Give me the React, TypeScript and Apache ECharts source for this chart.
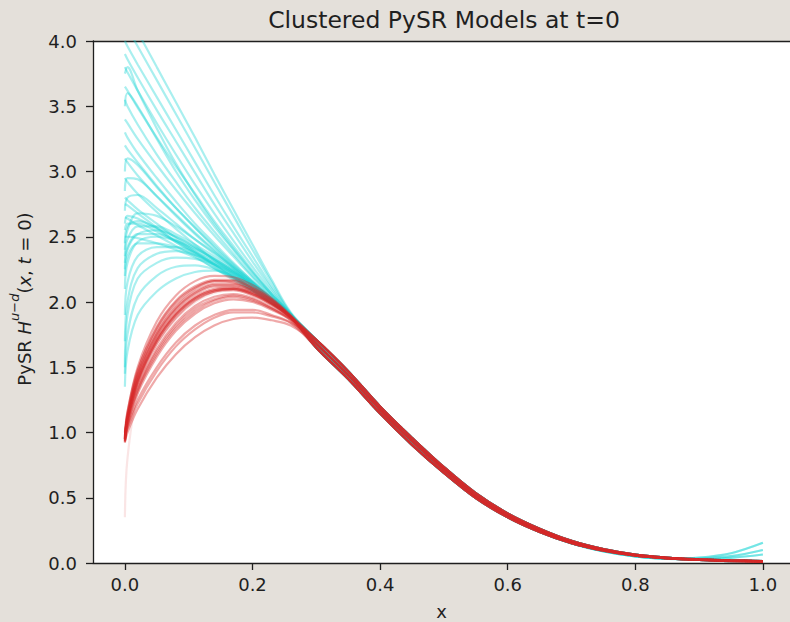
import React, { useEffect, useRef } from "react";
import * as echarts from "echarts";

const TITLE = "Clustered PySR Models at t=0";
const X_NAME = "x";
const X_TICKS = [0, 0.2, 0.4, 0.6, 0.8, 1.0];
const Y_TICKS = [0, 0.5, 1.0, 1.5, 2.0, 2.5, 3.0, 3.5, 4.0];

// x positions of the early (divergent) part of each model curve
const HEAD_X = [0, 0.004, 0.02, 0.05, 0.08, 0.11, 0.14, 0.17, 0.2, 0.23, 0.26];
// x positions of the shared (convergent) part
const TAIL_X = [0.3, 0.35, 0.4, 0.45, 0.5, 0.55, 0.6, 0.65, 0.7, 0.75, 0.8, 0.85, 0.9, 0.95, 1.0];

const TAIL_MAIN = [1.68, 1.44, 1.175, 0.935, 0.715, 0.515, 0.365, 0.25, 0.16, 0.1, 0.06, 0.038, 0.026, 0.018, 0.013];
const TAIL_HIGH = [1.71, 1.47, 1.2, 0.96, 0.735, 0.535, 0.38, 0.263, 0.17, 0.107, 0.065, 0.041, 0.028, 0.02, 0.015];
const TAIL_LOW = [1.65, 1.41, 1.145, 0.905, 0.69, 0.497, 0.35, 0.238, 0.152, 0.094, 0.056, 0.035, 0.023, 0.015, 0.01];
const TAIL_UP1 = [1.69, 1.45, 1.18, 0.94, 0.72, 0.52, 0.365, 0.25, 0.155, 0.092, 0.052, 0.035, 0.042, 0.075, 0.155];
const TAIL_UP2 = [1.68, 1.44, 1.17, 0.93, 0.71, 0.51, 0.36, 0.245, 0.152, 0.09, 0.05, 0.032, 0.034, 0.052, 0.1];
const TAIL_UP3 = [1.67, 1.43, 1.16, 0.92, 0.7, 0.505, 0.355, 0.24, 0.15, 0.088, 0.05, 0.032, 0.03, 0.04, 0.065];

// cyan cluster: early values of each model
const CYAN_HEADS = [
  [4.25, 4.21, 4.07, 3.8, 3.53, 3.26, 2.98, 2.71, 2.44, 2.17, 1.92],
  [4.15, 4.1, 3.96, 3.7, 3.44, 3.18, 2.92, 2.66, 2.4, 2.15, 1.91],
  [4.0, 3.96, 3.82, 3.57, 3.32, 3.07, 2.82, 2.58, 2.35, 2.12, 1.91],
  [3.9, 3.86, 3.72, 3.47, 3.23, 2.99, 2.75, 2.53, 2.31, 2.1, 1.9],
  [3.8, 3.76, 3.62, 3.37, 3.13, 2.9, 2.68, 2.47, 2.27, 2.08, 1.9],
  [3.75, 3.8, 3.62, 3.33, 3.06, 2.82, 2.6, 2.41, 2.23, 2.06, 1.9],
  [3.65, 3.62, 3.49, 3.26, 3.04, 2.83, 2.62, 2.43, 2.24, 2.06, 1.9],
  [3.55, 3.5, 3.36, 3.13, 2.92, 2.72, 2.54, 2.37, 2.2, 2.05, 1.9],
  [3.5, 3.6, 3.5, 3.25, 3.0, 2.78, 2.58, 2.4, 2.22, 2.06, 1.91],
  [3.4, 3.37, 3.25, 3.05, 2.86, 2.68, 2.51, 2.35, 2.19, 2.04, 1.9],
  [3.3, 3.26, 3.14, 2.95, 2.77, 2.6, 2.45, 2.3, 2.16, 2.03, 1.9],
  [3.2, 3.17, 3.07, 2.89, 2.72, 2.57, 2.42, 2.28, 2.15, 2.02, 1.89],
  [3.1, 3.07, 2.97, 2.81, 2.66, 2.52, 2.39, 2.26, 2.13, 2.01, 1.89],
  [3.0, 3.1, 3.05, 2.88, 2.72, 2.57, 2.43, 2.29, 2.16, 2.03, 1.9],
  [2.95, 2.92, 2.83, 2.69, 2.56, 2.44, 2.32, 2.21, 2.1, 1.99, 1.89],
  [2.85, 2.95, 2.94, 2.81, 2.67, 2.53, 2.4, 2.27, 2.15, 2.02, 1.9],
  [2.8, 2.78, 2.71, 2.6, 2.49, 2.39, 2.29, 2.19, 2.09, 1.99, 1.89],
  [2.75, 2.74, 2.68, 2.57, 2.46, 2.37, 2.28, 2.19, 2.1, 2.0, 1.89],
  [2.7, 2.8, 2.82, 2.72, 2.6, 2.48, 2.37, 2.26, 2.14, 2.02, 1.9],
  [2.65, 2.64, 2.59, 2.51, 2.43, 2.35, 2.26, 2.17, 2.08, 1.99, 1.89],
  [2.6, 2.66, 2.64, 2.56, 2.47, 2.38, 2.28, 2.19, 2.09, 1.99, 1.89],
  [2.55, 2.6, 2.6, 2.54, 2.46, 2.38, 2.29, 2.2, 2.1, 2.0, 1.89],
  [2.5, 2.5, 2.49, 2.45, 2.4, 2.34, 2.26, 2.18, 2.09, 2.0, 1.9],
  [2.45, 2.58, 2.62, 2.57, 2.5, 2.42, 2.33, 2.23, 2.12, 2.01, 1.89],
  [2.4, 2.55, 2.68, 2.66, 2.58, 2.48, 2.38, 2.27, 2.15, 2.03, 1.9],
  [2.35, 2.48, 2.58, 2.58, 2.52, 2.44, 2.35, 2.25, 2.14, 2.02, 1.9],
  [2.3, 2.42, 2.52, 2.52, 2.47, 2.4, 2.32, 2.23, 2.13, 2.02, 1.9],
  [2.25, 2.4, 2.52, 2.55, 2.5, 2.42, 2.33, 2.24, 2.13, 2.02, 1.9],
  [2.2, 2.35, 2.45, 2.45, 2.42, 2.36, 2.29, 2.21, 2.11, 2.01, 1.9],
  [2.1, 2.3, 2.46, 2.5, 2.47, 2.41, 2.33, 2.24, 2.13, 2.02, 1.9],
  [1.9, 2.15, 2.35, 2.42, 2.42, 2.38, 2.31, 2.23, 2.13, 2.02, 1.9],
  [1.7, 2.0, 2.26, 2.37, 2.39, 2.36, 2.3, 2.22, 2.13, 2.02, 1.89],
  [1.5, 1.9, 2.18, 2.3, 2.34, 2.33, 2.29, 2.22, 2.13, 2.02, 1.89],
  [1.45, 1.75, 2.04, 2.2, 2.27, 2.28, 2.25, 2.19, 2.11, 2.01, 1.89],
  [1.35, 1.62, 1.9, 2.08, 2.18, 2.23, 2.24, 2.2, 2.12, 2.01, 1.89],
];
const CYAN_TAILS = [
  TAIL_HIGH, TAIL_UP1, TAIL_MAIN, TAIL_HIGH, TAIL_UP2, TAIL_MAIN, TAIL_LOW, TAIL_MAIN, TAIL_UP3, TAIL_HIGH,
  TAIL_MAIN, TAIL_LOW, TAIL_MAIN, TAIL_HIGH, TAIL_LOW, TAIL_MAIN, TAIL_UP2, TAIL_HIGH, TAIL_MAIN, TAIL_LOW,
  TAIL_MAIN, TAIL_HIGH, TAIL_UP1, TAIL_LOW, TAIL_MAIN, TAIL_HIGH, TAIL_MAIN, TAIL_LOW, TAIL_UP3, TAIL_MAIN,
  TAIL_HIGH, TAIL_LOW, TAIL_MAIN, TAIL_HIGH, TAIL_LOW,
];

// red cluster: early values of each model
const RED_HEADS = [
  [0.95, 1.15, 1.5, 1.85, 2.05, 2.16, 2.2, 2.19, 2.13, 2.03, 1.9],
  [1.0, 1.16, 1.48, 1.8, 2.0, 2.11, 2.16, 2.15, 2.1, 2.01, 1.89],
  [0.96, 1.14, 1.47, 1.81, 2.01, 2.12, 2.17, 2.17, 2.11, 2.02, 1.89],
  [0.97, 1.13, 1.45, 1.78, 1.98, 2.1, 2.16, 2.16, 2.11, 2.02, 1.89],
  [0.95, 1.12, 1.44, 1.76, 1.96, 2.08, 2.14, 2.14, 2.09, 2.01, 1.89],
  [0.96, 1.12, 1.43, 1.75, 1.95, 2.07, 2.13, 2.13, 2.09, 2.0, 1.89],
  [0.94, 1.11, 1.42, 1.74, 1.94, 2.06, 2.12, 2.12, 2.08, 2.0, 1.88],
  [0.95, 1.1, 1.4, 1.72, 1.92, 2.04, 2.1, 2.11, 2.07, 1.99, 1.88],
  [0.96, 1.1, 1.4, 1.71, 1.91, 2.03, 2.09, 2.1, 2.06, 1.99, 1.88],
  [0.97, 1.1, 1.39, 1.7, 1.9, 2.03, 2.09, 2.1, 2.06, 1.98, 1.88],
  [0.94, 1.09, 1.38, 1.7, 1.9, 2.02, 2.08, 2.09, 2.05, 1.98, 1.88],
  [0.93, 1.08, 1.37, 1.68, 1.88, 2.01, 2.08, 2.1, 2.07, 1.99, 1.88],
  [0.98, 1.1, 1.35, 1.64, 1.84, 1.97, 2.04, 2.06, 2.03, 1.96, 1.87],
  [0.95, 1.07, 1.33, 1.62, 1.82, 1.95, 2.02, 2.05, 2.02, 1.95, 1.87],
  [0.93, 1.06, 1.32, 1.6, 1.8, 1.93, 2.01, 2.04, 2.01, 1.95, 1.86],
  [0.92, 1.05, 1.3, 1.58, 1.78, 1.91, 1.99, 2.02, 2.0, 1.94, 1.86],
  [0.95, 1.04, 1.25, 1.5, 1.69, 1.82, 1.9, 1.94, 1.94, 1.9, 1.84],
  [0.94, 1.03, 1.22, 1.47, 1.66, 1.79, 1.88, 1.92, 1.92, 1.89, 1.84],
  [0.93, 1.0, 1.18, 1.42, 1.6, 1.73, 1.82, 1.87, 1.88, 1.86, 1.82],
  [0.35, 0.8, 1.3, 1.66, 1.87, 2.0, 2.07, 2.09, 2.06, 1.98, 1.88],
];
const RED_TAILS = [
  TAIL_HIGH, TAIL_MAIN, TAIL_LOW, TAIL_MAIN, TAIL_HIGH, TAIL_LOW, TAIL_MAIN, TAIL_LOW, TAIL_HIGH, TAIL_MAIN,
  TAIL_LOW, TAIL_HIGH, TAIL_MAIN, TAIL_HIGH, TAIL_LOW, TAIL_MAIN, TAIL_LOW, TAIL_HIGH, TAIL_MAIN, TAIL_LOW,
];

const CYAN = "#1cd6d6";
const RED = "#d62728";
const FONT = "DejaVu Sans";
const INK = "#1f1f1f";

function curve(head: number[], tail: number[]) {
  return HEAD_X.map((x, i) => [x, head[i]]).concat(TAIL_X.map((x, i) => [x, tail[i]]));
}

export default function App() {
  const ref = useRef<HTMLDivElement>(null);
  useEffect(() => {
    if (!ref.current) return;
    const chart = echarts.init(ref.current, null, { renderer: "svg" });
    const series: any[] = [];
    CYAN_HEADS.forEach((h, k) => {
      series.push({
        type: "line",
        data: curve(h, CYAN_TAILS[k]),
        symbol: "none",
        smooth: 0.35,
        silent: true,
        z: 2,
        lineStyle: { color: CYAN, width: 2.2, opacity: 0.38 },
      });
    });
    RED_HEADS.forEach((h, k) => {
      series.push({
        type: "line",
        data: curve(h, RED_TAILS[k]),
        symbol: "none",
        smooth: 0.35,
        silent: true,
        z: 3,
        lineStyle: { color: RED, width: 2.2, opacity: h[0] < 0.5 ? 0.12 : 0.4 },
      });
    });
    chart.setOption({
      animation: false,
      backgroundColor: "#e4e0da",
      grid: {
        left: 93,
        top: 41,
        right: 0,
        bottom: 59,
        outerBoundsMode: "none",
        containLabel: false,
        show: true,
        backgroundColor: "#ffffff",
        borderWidth: 0,
      },
      xAxis: [
        {
          type: "value",
          min: -0.05,
          max: 1.0425,
          name: X_NAME,
          nameLocation: "middle",
          nameGap: 39,
          nameTextStyle: { fontFamily: FONT, fontSize: 18, color: INK },
          axisLine: { show: true, onZero: false, lineStyle: { color: INK, width: 1.3 } },
          axisTick: { show: true, length: 7, customValues: X_TICKS, lineStyle: { color: INK, width: 1.3 } },
          axisLabel: {
            customValues: X_TICKS,
            margin: 12,
            fontFamily: FONT,
            fontSize: 18,
            color: INK,
            formatter: (v: number) => v.toFixed(1),
          },
          splitLine: { show: false },
        },
        {
          type: "value",
          position: "top",
          min: -0.05,
          max: 1.0425,
          axisLine: { show: true, onZero: false, lineStyle: { color: INK, width: 1.3 } },
          axisTick: { show: false },
          axisLabel: { show: false },
          splitLine: { show: false },
        },
      ],
      yAxis: {
        type: "value",
        min: 0,
        max: 4,
        axisLine: { show: true, onZero: false, lineStyle: { color: INK, width: 1.3 } },
        axisTick: { show: true, length: 7, customValues: Y_TICKS, lineStyle: { color: INK, width: 1.3 } },
        axisLabel: {
          customValues: Y_TICKS,
          margin: 16,
          fontFamily: FONT,
          fontSize: 18,
          color: INK,
          formatter: (v: number) => v.toFixed(1),
        },
        splitLine: { show: false },
      },
      graphic: [
        {
          type: "text",
          x: 444,
          y: 19.5,
          silent: true,
          style: {
            text: TITLE,
            fontFamily: FONT,
            fontSize: 23.5,
            fill: INK,
            align: "center",
            verticalAlign: "middle",
          },
        },
        {
          type: "text",
          x: 24,
          y: 299,
          rotation: Math.PI / 2,
          silent: true,
          style: {
            text: "{n|PySR }{i|H}{s|u−d}{n|(}{i|x}{n|, }{i|t}{n| = 0)}",
            align: "center",
            verticalAlign: "middle",
            fill: INK,
            rich: {
              n: { fontFamily: FONT, fontSize: 18, lineHeight: 32, fill: INK },
              i: { fontFamily: FONT, fontSize: 18, fontStyle: "italic", lineHeight: 32, fill: INK },
              s: { fontFamily: FONT, fontSize: 13, fontStyle: "italic", lineHeight: 13, verticalAlign: "top", fill: INK },
            },
          },
        },
      ],
      series,
    });
    return () => chart.dispose();
  }, []);
  return <div ref={ref} style={{ position: "fixed", left: 0, top: 0, width: 790, height: 622 }} />;
}
